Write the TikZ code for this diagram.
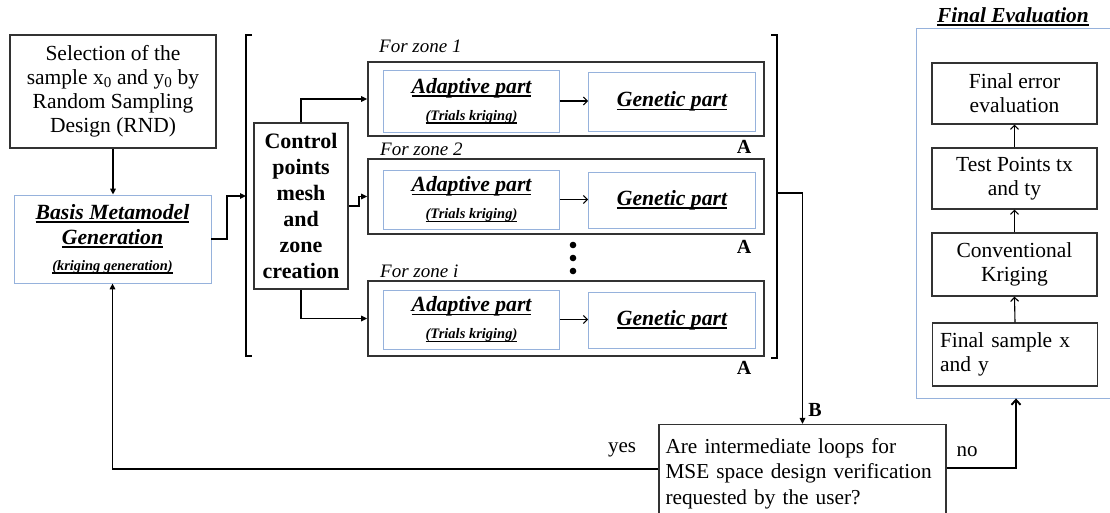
\documentclass[tikz,border=0pt]{standalone}
\usepackage{fontspec}
\setmainfont{Liberation Serif}
\usetikzlibrary{arrows.meta,calc}
\newcommand{\myul}[1]{\setbox0\hbox{#1}\rlap{\rule[-3.5pt]{\wd0}{1.7pt}}\box0}
\definecolor{bluec}{RGB}{150,178,220}
\definecolor{boxc}{RGB}{50,50,50}
\begin{document}
\begin{tikzpicture}[x=1pt,y=-1pt,
  blk/.style={draw=boxc, line width=1.7pt, inner sep=0pt},
  thinbox/.style={draw=boxc, line width=1.2pt, inner sep=0pt},
  blu/.style={draw=bluec, line width=0.8pt, inner sep=0pt},
  conn/.style={line width=1.9pt, -{Triangle[length=6pt,width=5.5pt]}},
  barbconn/.style={line width=1.9pt, -{Straight Barb[length=5pt,width=9pt]}},
  sarr/.style={line width=1.1pt, -{Straight Barb[length=4pt,width=8pt]}},
  rm/.style={font=\fontsize{21.5}{24}\selectfont},
  bi/.style={font=\fontsize{21.7}{25}\selectfont\bfseries\itshape},
  lbl/.style={font=\fontsize{20}{24}\selectfont\bfseries},
  zlbl/.style={font=\fontsize{19}{22}\selectfont\itshape, anchor=base west, inner sep=0pt}]
\useasboundingbox (0,0) rectangle (1110,512);
\clip (0,0) rectangle (1110,512);

% left column
\node[blk, rm, align=center, minimum width=206, minimum height=113] (sel) at (113,91.5)
  {Selection of the\\sample x\textsubscript{0} and y\textsubscript{0} by\\Random Sampling\\Design (RND)};
\node[blu, bi, align=center, minimum width=197, minimum height=88] (basis) at (112.5,239)
  {\myul{Basis Metamodel}\\\myul{Generation}\\[1pt]{\fontsize{14.4}{17}\selectfont\myul{(kriging generation)}}};

% control box
\node[blk, align=center, minimum width=94, minimum height=166,
  font=\fontsize{22}{26}\selectfont\bfseries] (ctrl) at (301,206)
  {Control\\points\\mesh\\and\\zone\\creation};

% brackets
\draw[line width=1.9pt] (252,35) -- (246,35) -- (246,356) -- (252,356);
\coordinate (lbm) at (246,196);
\draw[line width=1.9pt] (771,35) -- (777,35) -- (777,358) -- (771,358);
\coordinate (rbm) at (777,193);

% zones
\node[blk, minimum width=396, minimum height=74] (z1) at (566,99) {};
\node[blk, minimum width=396, minimum height=75] (z2) at (566,196.5) {};
\node[blk, minimum width=396, minimum height=75] (zi) at (566,318.5) {};

\node[zlbl] (lz1) at (379,52) {For zone 1};
\node[zlbl] (lz2) at (380,155) {For zone 2};
\node[zlbl] (lzi) at (380,277) {For zone i};

\foreach \n/\y/\h in {a1/101/62, a2/199.5/59, ai/319.5/59}{
  \node[blu, bi, align=center, minimum width=176, minimum height=\h] (\n) at (471.5,\y)
    {\myul{Adaptive part}\\[2pt]{\fontsize{14.5}{17}\selectfont\myul{(Trials kriging)}}};
}
\foreach \n/\y/\h in {g1/101.5/59, g2/200/56, gi/320/56}{
  \node[blu, bi, minimum width=167, minimum height=\h] (\n) at (672,\y) {\myul{Genetic part}};
}
\draw[sarr] (a1.east) -- (a1.east -| g1.west);
\draw[sarr] (a2.east) -- (a2.east -| g2.west);
\draw[sarr] (ai.east) -- (ai.east -| gi.west);

\node[lbl] (A1) at (744,147) {A};
\node[lbl] (A2) at (744,247) {A};
\node[lbl] (A3) at (744,368) {A};

\fill (573,245) circle (3.3) (573,258) circle (3.3) (573,271) circle (3.3);

% connectors
\draw[conn] (sel.south) -- (sel.south |- basis.north);
\draw[conn] (basis.east) -- ++(16,0) |- (lbm);
\draw[conn] (ctrl.north) |- (z1.west);
\draw[conn] (ctrl.east) -- ++(10,0) |- (z2.west);
\draw[conn] (ctrl.south) |- (zi.west);

% decision
\node[thinbox, font=\fontsize{21.3}{25.5}\selectfont, align=left, text width=274,
  minimum width=287, minimum height=98] (dec) at (802.5,473.5)
  {Are intermediate loops for\\MSE space design verification\\requested by the user?};
\coordinate (decW) at ($(dec.north west)+(0,45)$);
\coordinate (decE) at ($(dec.north east)+(0,44)$);
\draw[conn] (rbm) -| (dec.north);
\node[lbl] (B) at (815,410) {B};

% final evaluation
\node[font=\fontsize{21.4}{24}\selectfont\bfseries\itshape] (fet) at (1013,17) {\myul{Final Evaluation}};
\node[blu, minimum width=200, minimum height=370] (fe) at (1016,213) {};
\node[thinbox, rm, align=center, minimum width=165, minimum height=61] (fee) at (1014.5,93.5) {Final error\\evaluation};
\node[thinbox, rm, align=center, minimum width=165, minimum height=61] (tp) at (1014.5,178.5) {Test Points tx\\and ty};
\node[thinbox, rm, align=center, minimum width=165, minimum height=63] (ck) at (1014.5,264.5) {Conventional\\Kriging};
\node[thinbox, rm, align=left, text width=150, minimum width=165, minimum height=63] (fs) at (1015,354.5) {Final sample x\\and y};
\draw[sarr] (fs.north) -- (ck.south);
\draw[sarr] (ck.north) -- (tp.south);
\draw[sarr] (tp.north) -- (fee.south);

% yes / no
\draw[conn] (decW) -| (basis.south);
\node[font=\fontsize{21}{24}\selectfont] (yes) at (622,450) {yes};
\draw[barbconn] (decE) -| (fe.south);
\node[font=\fontsize{21}{24}\selectfont] (no) at (967,452) {no};
\end{tikzpicture}
\end{document}
